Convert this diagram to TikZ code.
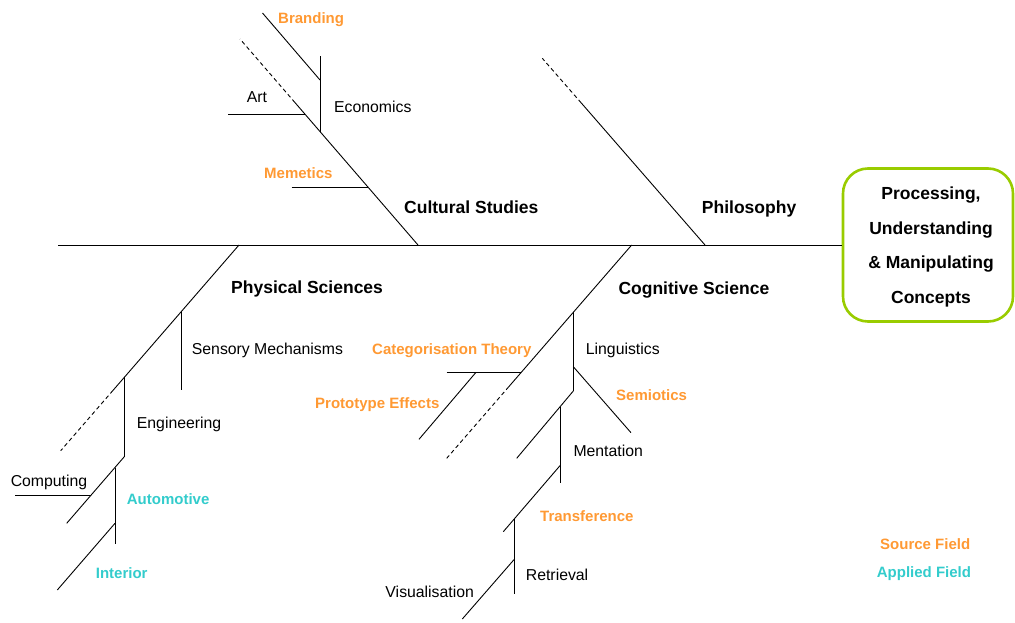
\documentclass[tikz,border=0pt]{standalone}
\usepackage{fontspec}
\setmainfont{Liberation Sans}
\definecolor{srcorange}{HTML}{FF9933}
\definecolor{appcyan}{HTML}{33CCCC}
\definecolor{boxgreen}{HTML}{99CC00}
\tikzset{
  bone/.style={line width=0.9pt, black},
  dashbone/.style={line width=0.9pt, black, dash pattern=on 4pt off 3pt},
  plain/.style={inner sep=0pt, font=\fontsize{15.8}{18}\selectfont},
  head/.style={inner sep=0pt, font=\bfseries\fontsize{17.5}{20}\selectfont},
  src/.style={inner sep=0pt, text=srcorange, font=\bfseries\fontsize{15}{18}\selectfont},
  app/.style={inner sep=0pt, text=appcyan, font=\bfseries\fontsize{15}{18}\selectfont},
  goal/.style={draw=boxgreen, line width=2.6pt, rounded corners=25pt, minimum width=170pt, minimum height=153pt, inner sep=0pt},
}
\begin{document}
\begin{tikzpicture}[x=1pt,y=-1pt]
\useasboundingbox (0,0) rectangle (1015,623);
% goal box
\node[goal] (box) at (928,245) {};
\node[head, anchor=base] (g1) at (931,199.3) {Processing,};
\node[head, anchor=base] (g2) at (931,234.3) {Understanding};
\node[head, anchor=base] (g3) at (931,268.8) {\&~Manipulating};
\node[head, anchor=base] (g4) at (931,303.3) {Concepts};
% spine
\coordinate (spineL) at (58,245);
\draw[bone] (spineL) -- (box.west);

% Cultural Studies
\coordinate (csA) at (418,245);
\coordinate (csB) at (295,102.6);
\coordinate (csC) at (240,39);
\draw[bone] (csA) -- (csB);
\draw[dashbone] (csB) -- (csC);
\draw[bone] (320,131.6) -- (320,56);          % Economics
\draw[bone] (320,80) -- (262.5,13);           % Branding
\draw[bone] (228,114.3) -- (305.1,114.3);     % Art
\draw[bone] (291.7,187.3) -- (368.1,187.3);   % Memetics

% Philosophy
\coordinate (phA) at (705,245);
\coordinate (phB) at (581.3,103);
\coordinate (phC) at (542.3,58.3);
\draw[bone] (phA) -- (phB);
\draw[dashbone] (phB) -- (phC);

% Cognitive Science
\coordinate (cgA) at (631.7,245);
\coordinate (cgB) at (508.8,386.7);
\coordinate (cgC) at (446.7,458.3);
\draw[bone] (cgA) -- (cgB);
\draw[dashbone] (cgB) -- (cgC);
\draw[bone] (446.7,372.3) -- (521.3,372.3);   % Categorisation Theory
\draw[bone] (476,372.3) -- (419,439.3);       % Prototype Effects
\draw[bone] (573.3,312.3) -- (573.3,391);     % Linguistics
\draw[bone] (573.3,366.7) -- (631,432.7);     % Semiotics
\draw[bone] (573.3,391) -- (516.7,458.3);
\draw[bone] (560.3,406.5) -- (560.3,483.3);   % Mentation
\draw[bone] (560.3,465.3) -- (503.3,531.7);   % Transference
\draw[bone] (514.3,518.9) -- (514.3,594.3);   % Retrieval
\draw[bone] (514.3,559.3) -- (462.3,619);     % Visualisation

% Physical Sciences
\coordinate (psA) at (239,245);
\coordinate (psB) at (113,390.4);
\coordinate (psC) at (60.7,450.7);
\draw[bone] (psA) -- (psB);
\draw[dashbone] (psB) -- (psC);
\draw[bone] (181.7,311.1) -- (181.7,390);     % Sensory Mechanisms
\draw[bone] (124.3,377.3) -- (124.3,456.7);   % Engineering
\draw[bone] (124.3,456.7) -- (66.7,523.3);
\draw[bone] (15,495) -- (91.2,495);           % Computing
\draw[bone] (115,467.5) -- (115,544);         % Automotive
\draw[bone] (115,523.3) -- (57.3,590);        % Interior

% headings
\node[head, anchor=base west] (tcs) at (404,213.3) {Cultural Studies};
\node[head, anchor=base west] (tph) at (701.7,213) {Philosophy};
\node[head, anchor=base west] (tps) at (231,293.3) {Physical Sciences};
\node[head, anchor=base west] (tcg) at (618.3,294.6) {Cognitive Science};

% plain labels
\node[plain, anchor=base] (tart) at (257,102.7) {Art};
\node[plain, anchor=base west] (teco) at (334,112.7) {Economics};
\node[plain, anchor=base west] (tsen) at (191.7,354.7) {Sensory Mechanisms};
\node[plain, anchor=base west] (teng) at (136.7,428.4) {Engineering};
\node[plain, anchor=base] (tcom) at (49,486.4) {Computing};
\node[plain, anchor=base west] (tlin) at (585.7,354.7) {Linguistics};
\node[plain, anchor=base west] (tmen) at (573.3,456.4) {Mentation};
\node[plain, anchor=base west] (tret) at (525.7,580.7) {Retrieval};
\node[plain, anchor=base] (tvis) at (429.7,597.4) {Visualisation};

% source fields
\node[src, anchor=base west] (tbra) at (278,23.4) {Branding};
\node[src, anchor=base west] (tmem) at (264,178.4) {Memetics};
\node[src, anchor=base west] (tcat) at (372,354.4) {Categorisation Theory};
\node[src, anchor=base west] (tpro) at (315,408.1) {Prototype Effects};
\node[src, anchor=base west] (tsem) at (616,400.4) {Semiotics};
\node[src, anchor=base west] (ttra) at (540,521.4) {Transference};
\node[src, anchor=base west] (tsrc) at (880,549.4) {Source Field};

% applied fields
\node[app, anchor=base west] (taut) at (126.7,504.7) {Automotive};
\node[app, anchor=base west] (tint) at (95.7,578.7) {Interior};
\node[app, anchor=base west] (tapp) at (876.7,577.7) {Applied Field};
\end{tikzpicture}
\end{document}
